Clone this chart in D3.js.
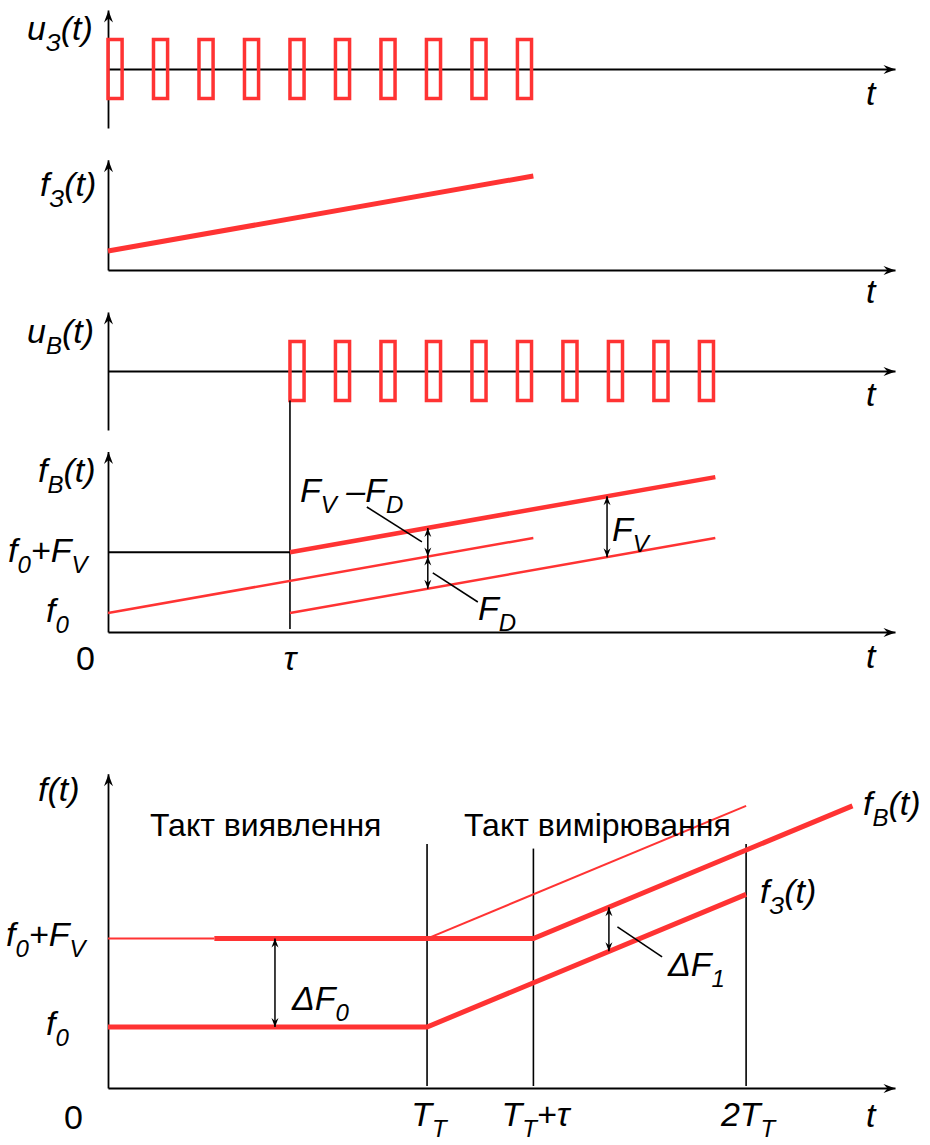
<!DOCTYPE html>
<html><head><meta charset="utf-8">
<script src="https://cdn.jsdelivr.net/npm/d3@7/dist/d3.min.js"></script>
<style>
body{margin:0;background:#fff}
text{font-family:"Liberation Sans",Arial,Helvetica,sans-serif;fill:#000}
</style>
</head><body>
<svg id="c" width="930" height="1145"></svg>
<script>
// ================= DATA (schematic values) =================
// time unit in the upper four panels = one pulse period
const probePulseStarts = [0,1,2,3,4,5,6,7,8,9];        // u_З(t)
const echoPulseStarts  = [4,5,6,7,8,9,10,11,12,13];    // u_В(t)
const pulseWidth = 0.31;
const pulseAmp = 1;
const tau = 4;
// frequency series [t, f]
const probeChirp   = [[0,1.0],[9.35,4.95]];     // f_З(t)
const echoChirp    = [[4,4.2],[13.35,8.15]];    // f_В(t) thick
const refChirp     = [[0,1.0],[9.35,4.95]];     // thin, from 0
const shiftedChirp = [[4,1.0],[13.35,4.95]];    // thin, from tau
const holdLevel    = [[0,4.2],[4,4.2]];         // f0+FV level, black
// double arrows [t, fLow, fHigh]
const upperArrows = [[7.03,3.97,5.48],[7.03,2.28,3.97],[10.97,3.94,7.14]];
// leader lines [[t1,f1],[t2,f2]]
const upperLeaders = [[[5.69,6.58],[6.90,4.74]],[[7.14,3.11],[8.13,1.58]]];

// bottom panel: time unit so that T_T = 3, tau = 1
const bottomTicks = [0,3,4,6];
const bottomTickLabels = [[["0",0]],[["T",0],["T",1]],[["T",0],["T",1],["+τ",0]],[["2T",0],["T",1]]];
const fBThinStart  = [[0,4.9],[1,4.9]];
const fBThick      = [[1,4.9],[4,4.9],[7,9.25]];
const fBExtrap     = [[3,4.9],[6,9.25]];
const f3Thick      = [[0,2.0],[3,2.0],[6,6.35]];
const bottomVLines = [[3,8.0],[4,7.85],[6,8.0]];   // [t, top f]
const bottomArrows = [[1.57,2.0,4.9],[4.71,4.48,5.93]];
const bottomLeaders = [[[4.79,5.28],[5.21,4.30]]];

// ================= DRAWING =================
const RED = "#ff3333";
const svg = d3.select("#c");
const defs = svg.append("defs");
defs.append("marker").attr("id","ax").attr("viewBox","-13 -6 14 12")
  .attr("refX",0).attr("refY",0).attr("markerWidth",14).attr("markerHeight",12)
  .attr("markerUnits","userSpaceOnUse").attr("orient","auto")
  .append("path").attr("d","M0,0 L-12,-4.5 L-8,0 L-12,4.5 Z").attr("fill","#000");
defs.append("marker").attr("id","da").attr("viewBox","-10 -5 11 10")
  .attr("refX",0).attr("refY",0).attr("markerWidth",11).attr("markerHeight",10)
  .attr("markerUnits","userSpaceOnUse").attr("orient","auto-start-reverse")
  .append("path").attr("d","M0,0 L-9,-3.5 L-6,0 L-9,3.5 Z").attr("fill","#000");

const xT = d3.scaleLinear().domain([0,17.3]).range([108,895]);
const y1 = d3.scaleLinear().domain([-2,2]).range([128,10]);
const y2 = d3.scaleLinear().domain([0,5.8]).range([270,159.8]);
const y3 = d3.scaleLinear().domain([-2,2]).range([430,312]);
const y4 = d3.scaleLinear().domain([0,9.5]).range([632,451.5]);
const xB = d3.scaleLinear().domain([0,7.4]).range([108,895]);
const yB = d3.scaleLinear().domain([0,10.3]).range([1088,773.85]);

function hAxis(x, yPos, sw){
  const g = svg.append("g").attr("transform",`translate(0,${yPos})`)
    .call(d3.axisBottom(x).tickValues([]).tickSizeOuter(0));
  g.select(".domain").attr("stroke","#000").attr("stroke-width",sw||2).attr("marker-end","url(#ax)");
}
function vAxis(y, sw){
  const g = svg.append("g").attr("transform",`translate(108,0)`)
    .call(d3.axisLeft(y).tickValues([]).tickSizeOuter(0));
  g.select(".domain").attr("stroke","#000").attr("stroke-width",sw||1.8).attr("marker-end","url(#ax)");
}
function polyline(x,y,pts,color,w){
  svg.append("path").datum(pts)
    .attr("d",d3.line().x(d=>x(d[0])).y(d=>y(d[1])))
    .attr("fill","none").attr("stroke",color).attr("stroke-width",w);
}
function dArrow(x,y,a){
  svg.append("line").attr("x1",x(a[0])).attr("x2",x(a[0]))
    .attr("y1",y(a[1])).attr("y2",y(a[2]))
    .attr("stroke","#000").attr("stroke-width",1.5)
    .attr("marker-start","url(#da)").attr("marker-end","url(#da)");
}
function pulses(x,y,starts){
  svg.append("g").selectAll("rect").data(starts).join("rect")
    .attr("x",d=>x(d)).attr("width",d=>x(d+pulseWidth)-x(d))
    .attr("y",y(pulseAmp)).attr("height",y(-pulseAmp)-y(pulseAmp))
    .attr("fill","none").attr("stroke",RED).attr("stroke-width",3.5);
}
// parts: [[string, isSub]]
function label(x,y,parts,opt){
  opt = opt||{};
  const fs = opt.size||34, sfs = opt.sub||24, off = opt.off||11;
  const t = svg.append("text").attr("x",x).attr("y",y)
    .attr("font-size",fs).attr("font-style",opt.upright?"normal":"italic")
    .attr("text-anchor",opt.anchor||"start");
  let down = false;
  parts.forEach(p=>{
    const ts = t.append("tspan").text(p[0]);
    if(p[1]){ ts.attr("font-size",sfs); if(!down){ts.attr("dy",off);down=true;} }
    else { if(down){ts.attr("dy",-off);down=false;} }
  });
  return t;
}

// ---- panel 1: u_З(t)
vAxis(y1);
hAxis(xT, y1(0));
pulses(xT,y1,probePulseStarts);
label(27,40,[["u",0],["З",1],["(t)",0]]);
label(866,105,[["t",0]]);

// ---- panel 2: f_З(t)
vAxis(y2);
hAxis(xT, y2(0));
polyline(xT,y2,probeChirp,RED,5);
label(40,196,[["f",0],["З",1],["(t)",0]]);
label(866,303,[["t",0]]);

// ---- panel 3: u_В(t)
vAxis(y3);
hAxis(xT, y3(0));
pulses(xT,y3,echoPulseStarts);
label(27,343,[["u",0],["В",1],["(t)",0]]);
label(866,406,[["t",0]]);
// tau line
svg.append("line").attr("x1",xT(tau)).attr("x2",xT(tau))
  .attr("y1",y3(-pulseAmp)).attr("y2",y4(0)-3)
  .attr("stroke","#000").attr("stroke-width",1.6);

// ---- panel 4: f_В(t)
vAxis(y4);
hAxis(xT, y4(0));
polyline(xT,y4,holdLevel,"#000",2);
polyline(xT,y4,refChirp,RED,2.5);
polyline(xT,y4,shiftedChirp,RED,2.5);
polyline(xT,y4,echoChirp,RED,4.5);
upperArrows.forEach(a=>dArrow(xT,y4,a));
upperLeaders.forEach(l=>polyline(xT,y4,l,"#000",1.6));
label(38,482,[["f",0],["В",1],["(t)",0]]);
label(8,562,[["f",0],["0",1],["+F",0],["V",1]]);
label(46,622,[["f",0],["0",1]]);
label(76,670,[["0",0]],{upright:true});
label(xT(tau),670,[["τ",0]],{anchor:"middle"});
label(866,668,[["t",0]]);
label(300,502,[["F",0],["V",1],[" –F",0],["D",1]]);
label(612,541,[["F",0],["V",1]]);
label(478,620,[["F",0],["D",1]]);

// ---- bottom panel
vAxis(yB);
hAxis(xB, yB(0));
bottomVLines.forEach(v=>svg.append("line").attr("x1",xB(v[0])).attr("x2",xB(v[0]))
  .attr("y1",yB(v[1])).attr("y2",yB(0)-2).attr("stroke","#000").attr("stroke-width",1.6));
polyline(xB,yB,fBThinStart,RED,2);
polyline(xB,yB,fBExtrap,RED,2);
polyline(xB,yB,fBThick,RED,5);
polyline(xB,yB,f3Thick,RED,5);
bottomArrows.forEach(a=>dArrow(xB,yB,a));
bottomLeaders.forEach(l=>polyline(xB,yB,l,"#000",1.6));
label(38,801,[["f(t)",0]]);
label(150,836,[["Такт виявлення",0]],{upright:true,size:32});
label(464,836,[["Такт вимірювання",0]],{upright:true,size:32});
label(863,815,[["f",0],["В",1],["(t)",0]]);
label(760,903,[["f",0],["З",1],["(t)",0]]);
label(6,946,[["f",0],["0",1],["+F",0],["V",1]]);
label(46,1035,[["f",0],["0",1]]);
label(292,1010,[["Δ",0],["F",0],["0",1]]);
label(668,976,[["Δ",0],["F",0],["1",1]]);
bottomTicks.forEach((tv,i)=>{
  const parts = bottomTickLabels[i];
  if(tv===0) label(xB(tv)-44,1129,parts,{upright:true});
  else label(xB(tv)+2,1126,parts,{anchor:"middle"});
});
label(866,1127,[["t",0]]);
</script>
</body></html>
